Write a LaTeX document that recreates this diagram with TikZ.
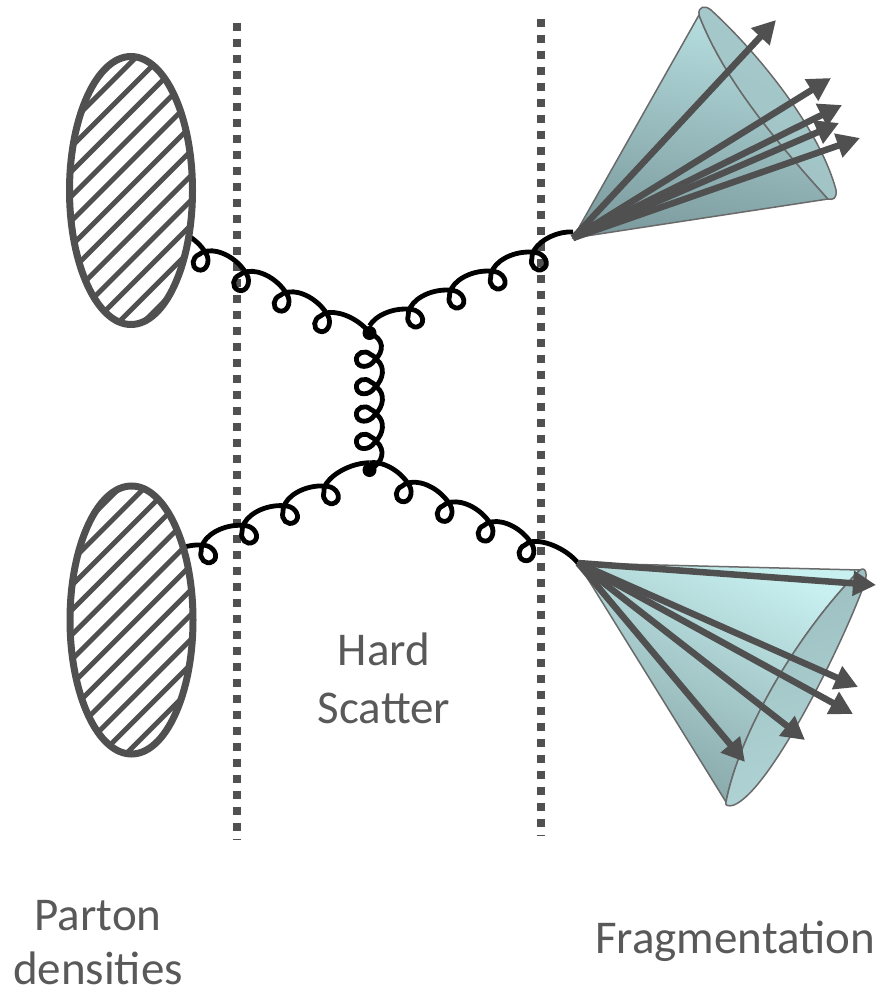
\documentclass[tikz,border=0pt]{standalone}
\usepackage{fontspec}
\setmainfont{Carlito}
\usetikzlibrary{shapes.geometric,arrows.meta,decorations}

\definecolor{ink}{HTML}{505050}
\definecolor{coneA}{HTML}{B6DEE0}
\definecolor{coneAdark}{HTML}{7D9C9F}
\definecolor{rimA}{HTML}{A6CACC}
\definecolor{rimAdark}{HTML}{A0C2C4}
\definecolor{coneB}{HTML}{C8F0F0}
\definecolor{coneBdark}{HTML}{84A3A5}
\definecolor{rimB}{HTML}{9CBEC0}
\definecolor{rimBdark}{HTML}{B0D4D5}

% arch followed by a loop hanging below it, repeated along the path
\def\gluonpitch{45.4}
\pgfdeclaredecoration{gluonline}{curl}{
	\state{curl}[width=\gluonpitch pt, switch if less than=1.2*\gluonpitch pt to final]{
		\pgfpathcurveto{\pgfpoint{0.22*\gluonpitch pt}{7pt}}{\pgfpoint{0.66*\gluonpitch pt}{7pt}}{\pgfpoint{\gluonpitch pt}{-3pt}}
		\pgfpathcurveto{\pgfpoint{\gluonpitch pt+8pt}{-8pt}}{\pgfpoint{\gluonpitch pt+8pt}{-20pt}}{\pgfpoint{\gluonpitch pt}{-21pt}}
		\pgfpathcurveto{\pgfpoint{\gluonpitch pt-8pt}{-22pt}}{\pgfpoint{\gluonpitch pt-11pt}{-12pt}}{\pgfpoint{\gluonpitch pt-6pt}{-7pt}}
		\pgfpathcurveto{\pgfpoint{\gluonpitch pt-4pt}{-3pt}}{\pgfpoint{\gluonpitch pt-2pt}{-1pt}}{\pgfpoint{\gluonpitch pt}{0pt}}
	}
	\state{final}{
		\pgfpathcurveto{\pgfpoint{0.25*\pgfdecoratedremainingdistance}{7pt}}{\pgfpoint{0.7*\pgfdecoratedremainingdistance}{7pt}}{\pgfpointdecoratedpathlast}
	}
}

\tikzset{
	cutline/.style={draw=ink, line width=8, dash pattern=on 8 off 8},
	parton/.style={ellipse, draw=ink, fill=white, line width=7, minimum width=123, minimum height=268, inner sep=0,
		path picture={
			\foreach \k in {-7,...,7}
				\draw[ink, line width=5] (path picture bounding box.center) ++(-200+\k*12.375+#1,200+\k*12.375+#1) -- ++(400,-400);
		}},
	gluon/.style={draw=black, line width=4.8, decorate, decoration={gluonline}},
	gluon pitch/.code={\def\gluonpitch{#1}},
	vertex/.style={circle, fill=black, inner sep=0, minimum size=14},
	coneskin/.style={draw=ink!85, line width=1.5},
	trackline/.style={draw=ink, line width=6.5, -{Triangle[length=23pt, width=24pt]}},
	textlabel/.style={text=ink!95, font=\fontsize{47}{58}\selectfont, align=center},
}

\begin{document}
\begin{tikzpicture}[x=1pt, y=-1pt]
	\useasboundingbox (0,0) rectangle (876,995);

	% factorisation boundaries
	\coordinate (cutAtop) at (237,23);
	\coordinate (cutAbot) at (237,840);
	\coordinate (cutBtop) at (541,19);
	\coordinate (cutBbot) at (541,836);
	\draw[cutline] (cutAtop) -- (cutAbot);
	\draw[cutline] (cutBtop) -- (cutBbot);

	% the scatter
	\node[vertex] (vtxA) at (369.5,333) {};
	\node[vertex] (vtxB) at (369.5,470) {};
	\coordinate (inA) at (167,230.5);
	\coordinate (inB) at (162.6,562.3);
	\coordinate (endA) at (573,232);
	\coordinate (endB) at (578,563);

	\draw[gluon] (inA) -- (vtxA.center);
	\draw[gluon] (vtxA.north) -- (endA);
	\draw[gluon, gluon pitch=27.4, decoration={raise=8pt}] (vtxA.center) -- (vtxB.center);
	\draw[gluon] (inB) -- (vtxB.north);
	\draw[gluon] (vtxB.north) -- (endB);

	% incoming protons, on top of the gluon ends
	\node[parton=-2.15] (protonA) at (131,190.5) {};
	\node[parton=2.35] (protonB) at (131.5,620) {};

	% upper jet
	\coordinate (apexA) at (573,238);
	\shade[coneskin, top color=coneA, bottom color=coneAdark, shading angle=-10]
		(apexA) -- (699,15)
		.. controls (722,75) and (770,135) .. (828,199) -- cycle;
	\shade[coneskin, left color=rimA, right color=rimAdark, shading angle=-30]
		(699,15) .. controls (698,6) and (705,5) .. (711,10)
		.. controls (760,55) and (820,130) .. (836,190)
		.. controls (837,199) and (833,200) .. (828,199)
		.. controls (770,135) and (722,75) .. (699,15) -- cycle;
	\foreach \n/\x/\y in {1/776/20,2/831/78,3/842/105,4/839/123,5/860/138}{
		\coordinate (trkA\n) at (\x,\y);
		\draw[trackline] (apexA) -- (trkA\n);
	}

	% lower jet
	\coordinate (apexB) at (578,563);
	\shade[coneskin, top color=coneB, bottom color=coneBdark, shading angle=-25]
		(apexB) -- (860,570)
		.. controls (800,630) and (740,730) .. (726,802) -- cycle;
	\shade[coneskin, left color=rimB, right color=rimBdark, shading angle=20]
		(860,570) .. controls (866,566) and (868,575) .. (864,585)
		.. controls (840,650) and (770,790) .. (734,805)
		.. controls (727,807) and (725,805) .. (726,802)
		.. controls (740,730) and (800,630) .. (860,570) -- cycle;
	\foreach \n/\x/\y in {1/876/585,2/858/687,3/853/714,4/805/740,5/745/762}{
		\coordinate (trkB\n) at (\x,\y);
		\draw[trackline] (apexB) -- (trkB\n);
	}

	% regions
	\node[textlabel] (hard) at (384,678) {Hard\\Scatter};
	\node[textlabel] (pdf) at (98,943) {Parton\\[-4pt]densities};
	\node[textlabel] (frag) at (735,941) {Fragmentation};
\end{tikzpicture}
\end{document}
